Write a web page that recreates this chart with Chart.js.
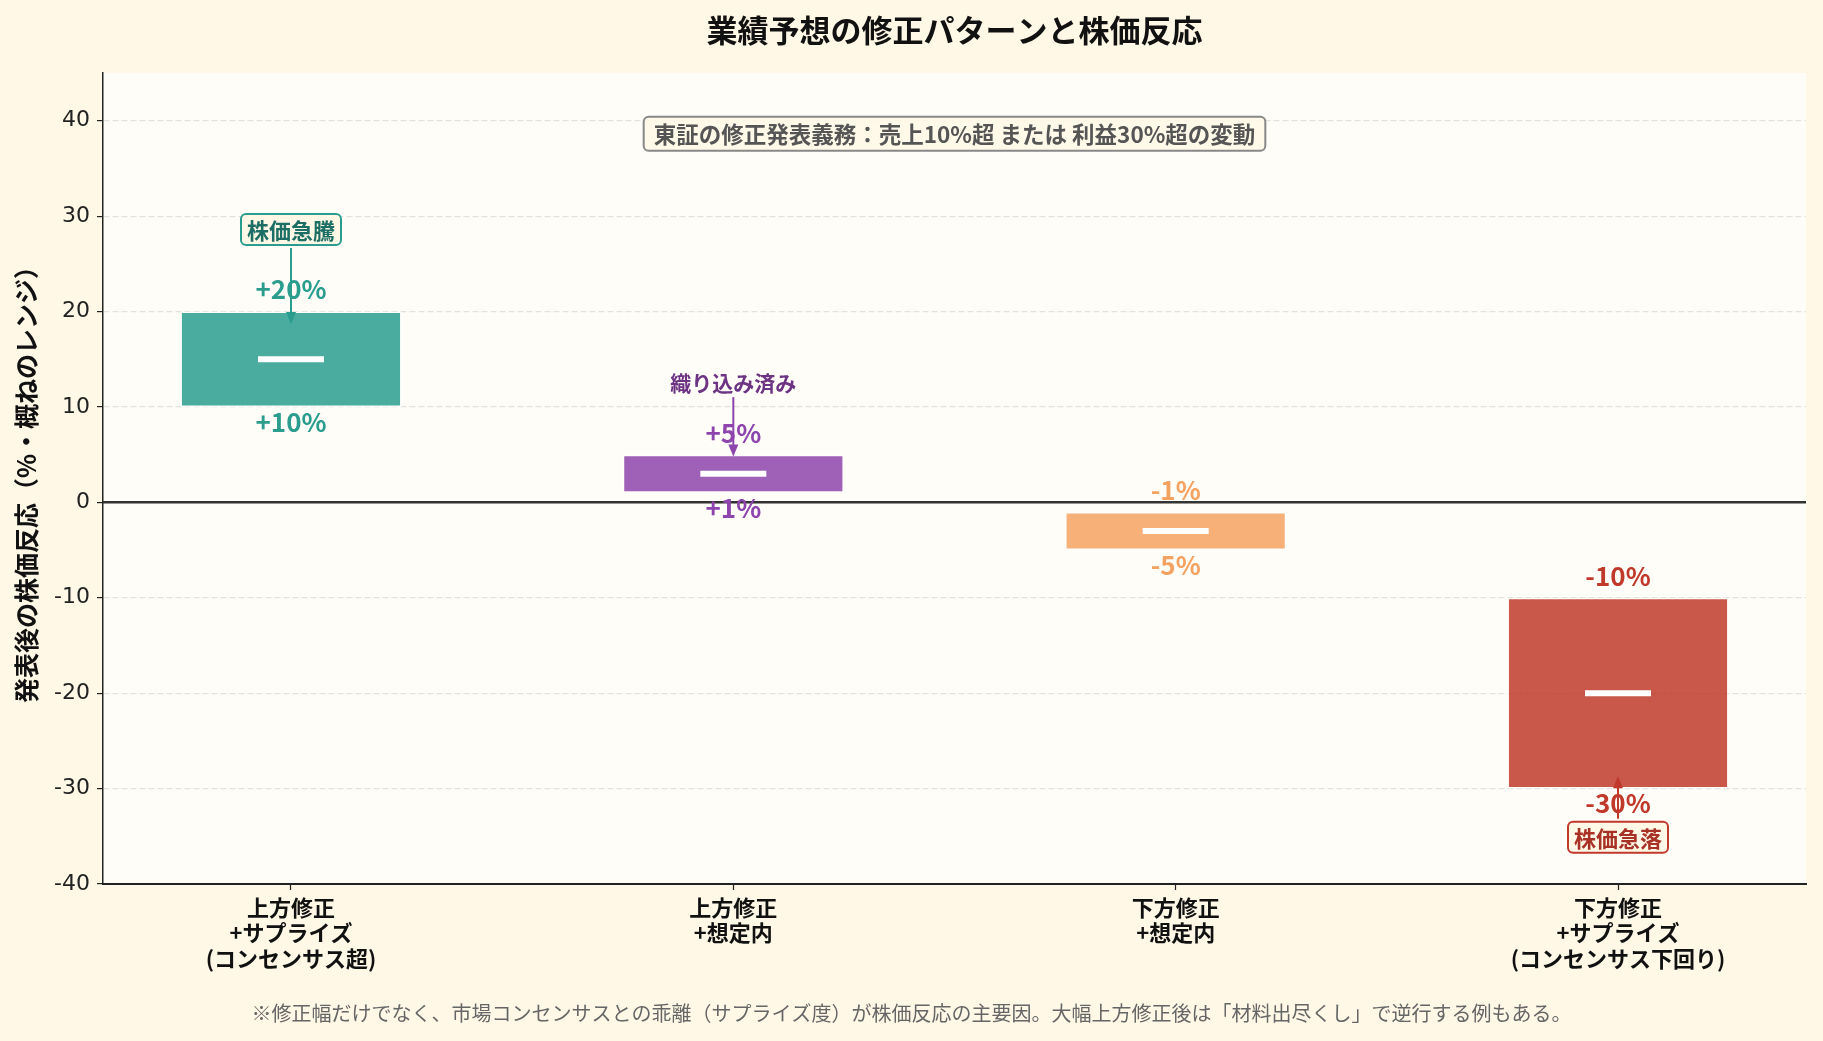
<!DOCTYPE html>
<html lang="ja">
<head>
    <meta charset="UTF-8">
    <title>業績予想の修正パターンと株価反応</title>
    <script src="https://cdn.jsdelivr.net/npm/chart.js"></script>
    <style>
        body {
            margin: 0;
            background-color: #FFF8E7;
        }
        canvas {
            display: block;
        }
    </style>
</head>
<body>
    <canvas id="revisionChart" width="1823" height="1041"></canvas>
    <script>
        // categories and ranges (% stock reaction after announcement)
        const categories = [
            ['上方修正', '+サプライズ', '(コンセンサス超)'],
            ['上方修正', '+想定内'],
            ['下方修正', '+想定内'],
            ['下方修正', '+サプライズ', '(コンセンサス下回り)']
        ];
        const rangeLow = [10, 1, -5, -30];
        const rangeHigh = [20, 5, -1, -10];
        const medians = [15, 3, -3, -20];
        const yTicks = [-40, -30, -20, -10, 0, 10, 20, 30, 40];

        // callouts: text, x category, text y, arrow tip y (data units)
        const annotTexts = ['株価急騰', '織り込み済み', '株価急落'];
        const annotX = [0, 1, 3];
        const annotTextY = [28.6, 12.6, -35.1];
        const annotTipY = [18.7, 4.8, -28.7];
        const annotBoxed = [true, false, true];

        const noteText = '東証の修正発表義務：売上10%超 または 利益30%超の変動';
        const footText = '※修正幅だけでなく、市場コンセンサスとの乖離（サプライズ度）が株価反応の主要因。大幅上方修正後は「材料出尽くし」で逆行する例もある。';
        const titleText = '業績予想の修正パターンと株価反応';

        const FONT = "'Noto Sans CJK JP', 'Noto Sans', sans-serif";
        const barColors = ['rgba(42,157,143,0.85)', 'rgba(142,68,173,0.85)', 'rgba(244,162,97,0.85)', 'rgba(192,57,43,0.85)'];
        const labelColors = ['#2a9d8f', '#8e44ad', '#f4a261', '#c0392b'];
        const annotTextColors = ['#1d6f65', '#6c3483', '#a93226'];
        const annotLineColors = ['#2a9d8f', '#8e44ad', '#c0392b'];
        const annotFontSize = [22, 21, 22];

        function roundRect(ctx, x, y, w, h, r) {
            ctx.beginPath();
            ctx.moveTo(x + r, y);
            ctx.lineTo(x + w - r, y);
            ctx.arcTo(x + w, y, x + w, y + r, r);
            ctx.lineTo(x + w, y + h - r);
            ctx.arcTo(x + w, y + h, x + w - r, y + h, r);
            ctx.lineTo(x + r, y + h);
            ctx.arcTo(x, y + h, x, y + h - r, r);
            ctx.lineTo(x, y + r);
            ctx.arcTo(x, y, x + r, y, r);
            ctx.closePath();
        }

        function arrow(ctx, x, y0, y1, color) {
            const dir = y1 > y0 ? 1 : -1;
            const head = 12;
            ctx.save();
            ctx.strokeStyle = color;
            ctx.fillStyle = color;
            ctx.lineWidth = 2;
            ctx.beginPath();
            ctx.moveTo(x, y0);
            ctx.lineTo(x, y1 - dir * head * 0.8);
            ctx.stroke();
            ctx.beginPath();
            ctx.moveTo(x, y1);
            ctx.lineTo(x - 5, y1 - dir * head);
            ctx.lineTo(x + 5, y1 - dir * head);
            ctx.closePath();
            ctx.fill();
            ctx.restore();
        }

        const backgroundPlugin = {
            id: 'backgrounds',
            beforeDraw(chart) {
                const {ctx, chartArea} = chart;
                ctx.save();
                ctx.fillStyle = '#FFF8E7';
                ctx.fillRect(0, 0, chart.width, chart.height);
                ctx.fillStyle = '#FFFDF7';
                ctx.fillRect(chartArea.left, chartArea.top, chartArea.right - chartArea.left, chartArea.bottom - chartArea.top);
                ctx.restore();
            },
            beforeDatasetsDraw(chart) {
                // zero reference line
                const {ctx, chartArea, scales} = chart;
                const y0 = scales.y.getPixelForValue(0);
                ctx.save();
                ctx.strokeStyle = '#333333';
                ctx.lineWidth = 2.5;
                ctx.beginPath();
                ctx.moveTo(chartArea.left, y0);
                ctx.lineTo(chartArea.right, y0);
                ctx.stroke();
                ctx.restore();
            }
        };

        const textPlugin = {
            id: 'texts',
            afterDatasetsDraw(chart) {
                const {ctx, chartArea, scales} = chart;
                const xs = scales.x, ys = scales.y;
                ctx.save();
                ctx.textAlign = 'center';
                ctx.textBaseline = 'middle';

                // range labels
                ctx.font = 'bold 26px ' + FONT;
                for (let i = 0; i < categories.length; i++) {
                    const px = xs.getPixelForValue(i);
                    ctx.fillStyle = labelColors[i];
                    const fmt = v => (v > 0 ? '+' : '') + v + '%';
                    ctx.fillText(fmt(rangeHigh[i]), px, ys.getPixelForValue(rangeHigh[i]) - 22);
                    ctx.fillText(fmt(rangeLow[i]), px, ys.getPixelForValue(rangeLow[i]) + 15);
                }

                // callouts with arrows
                for (let i = 0; i < annotTexts.length; i++) {
                    ctx.font = 'bold ' + annotFontSize[i] + 'px ' + FONT;
                    const px = xs.getPixelForValue(annotX[i]);
                    const ty = ys.getPixelForValue(annotTextY[i]);
                    const tip = ys.getPixelForValue(annotTipY[i]);
                    const w = ctx.measureText(annotTexts[i]).width;
                    const halfH = annotBoxed[i] ? 15.5 : 12;
                    const start = tip > ty ? ty + halfH + 3 : ty - halfH - 3;
                    arrow(ctx, px, start, tip, annotLineColors[i]);
                    if (annotBoxed[i]) {
                        roundRect(ctx, px - w / 2 - 6, ty - halfH, w + 12, halfH * 2, 5);
                        ctx.fillStyle = '#FFF8E7';
                        ctx.fill();
                        ctx.lineWidth = 2;
                        ctx.strokeStyle = annotLineColors[i];
                        ctx.stroke();
                    }
                    ctx.fillStyle = annotTextColors[i];
                    ctx.fillText(annotTexts[i], px, ty + 1);
                }

                // rule note box
                ctx.font = 'bold 22.5px ' + FONT;
                const nx = (chartArea.left + chartArea.right) / 2;
                const ny = chartArea.bottom - 0.925 * (chartArea.bottom - chartArea.top);
                const nw = ctx.measureText(noteText).width;
                roundRect(ctx, nx - nw / 2 - 10, ny - 17, nw + 20, 34, 5);
                ctx.fillStyle = 'rgba(255,248,231,0.9)';
                ctx.fill();
                ctx.lineWidth = 2;
                ctx.strokeStyle = '#888888';
                ctx.stroke();
                ctx.fillStyle = '#555555';
                ctx.fillText(noteText, nx, ny + 1);

                // title and footnote
                ctx.fillStyle = '#111111';
                ctx.font = 'bold 31px ' + FONT;
                ctx.fillText(titleText, nx, 30);
                ctx.fillStyle = '#666666';
                ctx.font = '20px ' + FONT;
                ctx.fillText(footText, chart.width / 2, 1013);
                ctx.restore();
            }
        };

        const ctx = document.getElementById('revisionChart').getContext('2d');
        new Chart(ctx, {
            type: 'bar',
            data: {
                datasets: [
                    {
                        type: 'scatter',
                        label: '中央値',
                        data: medians.map((v, i) => ({x: i, y: v})),
                        pointStyle: 'line',
                        radius: 33,
                        borderWidth: 6,
                        borderColor: '#ffffff',
                        order: 1
                    },
                    {
                        label: '株価反応レンジ',
                        data: rangeLow.map((v, i) => ({x: i, y: [v, rangeHigh[i]]})),
                        backgroundColor: barColors,
                        borderColor: 'rgba(255,255,255,0.7)',
                        borderWidth: 1.5,
                        borderSkipped: false,
                        barPercentage: 0.5,
                        categoryPercentage: 1.0,
                        order: 2
                    }
                ]
            },
            options: {
                responsive: false,
                animation: false,
                devicePixelRatio: 1,
                layout: { autoPadding: false, padding: { left: 4, right: 17, top: 73, bottom: 0 } },
                plugins: {
                    legend: { display: false },
                    tooltip: { enabled: false },
                    title: { display: false }
                },
                scales: {
                    x: {
                        type: 'linear',
                        min: -0.425,
                        max: 3.425,
                        offset: false,
                        afterBuildTicks: scale => { scale.ticks = categories.map((c, i) => ({value: i})); },
                        afterFit: scale => { scale.height = 157; },
                        grid: { drawOnChartArea: false, offset: false, drawTicks: true, tickLength: 6, tickColor: '#222222', tickWidth: 1.2 },
                        border: { display: true, color: '#222222', width: 2 },
                        ticks: {
                            autoSkip: false,
                            maxRotation: 0,
                            padding: 5,
                            color: '#111111',
                            font: { family: FONT, size: 22, weight: 'bold', lineHeight: 1.15 },
                            callback: value => categories[value]
                        }
                    },
                    y: {
                        min: -40,
                        max: 45,
                        afterBuildTicks: scale => { scale.ticks = yTicks.map(v => ({value: v})); },
                        afterFit: scale => { scale.width = 99; },
                        grid: { color: '#e4e2dd', lineWidth: 1.2, drawTicks: true, tickLength: 6, tickColor: '#222222', tickWidth: 1.2 },
                        border: { display: true, color: '#222222', width: 1.5, dash: [6, 3] },
                        ticks: {
                            padding: 7,
                            color: '#222222',
                            font: { family: "'DejaVu Sans', sans-serif", size: 22 }
                        },
                        title: {
                            display: true,
                            text: '発表後の株価反応（%・概ねのレンジ）',
                            color: '#111111',
                            padding: { top: 7, bottom: 0 },
                            font: { family: FONT, size: 25, weight: 'bold' }
                        }
                    }
                }
            },
            plugins: [backgroundPlugin, textPlugin]
        });
    </script>
</body>
</html>
